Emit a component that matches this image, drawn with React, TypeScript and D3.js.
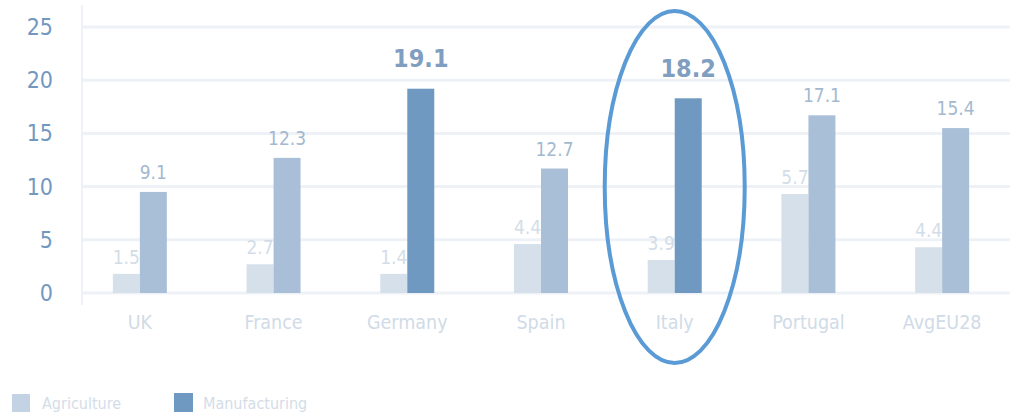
import React from "react";
import * as d3 from "d3";

const categories = ["UK", "France", "Germany", "Spain", "Italy", "Portugal", "AvgEU28"];
// bar heights as drawn in the picture
const agricultureBars = [1.8, 2.7, 1.8, 4.6, 3.1, 9.3, 4.3];
const manufacturingBars = [9.5, 12.7, 19.2, 11.7, 18.3, 16.7, 15.5];
// value labels as printed
const agricultureLabels = ["1.5", "2.7", "1.4", "4.4", "3.9", "5.7", "4.4"];
const manufacturingLabels = ["9.1", "12.3", "19.1", "12.7", "18.2", "17.1", "15.4"];
const highlighted = ["Germany", "Italy"];
const yTicks = [0, 5, 10, 15, 20, 25];
const seriesNames = ["Agriculture", "Manufacturing"];

const W = 1010;
const H = 414;
const FONT = "'Liberation Sans Narrow', 'DejaVu Sans Condensed', 'Arial Narrow', sans-serif";

export default function App() {
  const y = d3.scaleLinear().domain([0, 25]).range([293, 27]);
  const x = d3.scaleBand<string>().domain(categories).range([73, 1009]);
  const barW = 27;
  const cAgri = "#d5e0eb";
  const cManu = "#a9bfd7";
  const cHigh = "#6f99c0";

  const italyX = (x("Italy") as number) + x.bandwidth() / 2;

  return (
    <svg width={W} height={H} style={{ position: "absolute", left: 0, top: 0, background: "#fff" }} fontFamily={FONT}>
      {yTicks.map((t) => (
        <g key={t}>
          <line x1={82} x2={W} y1={y(t)} y2={y(t)} stroke="#eef2f7" strokeWidth={3} />
          <text x={53} y={y(t)} textAnchor="end" dominantBaseline="central" fontSize={23} fill="#7398c0">
            {t}
          </text>
        </g>
      ))}
      <line x1={82} x2={82} y1={5} y2={305} stroke="#eef2f8" strokeWidth={2} />
      {categories.map((c, i) => {
        const cx = (x(c) as number) + x.bandwidth() / 2;
        const isHigh = highlighted.includes(c);
        const yA = y(agricultureBars[i]);
        const yM = y(manufacturingBars[i]);
        return (
          <g key={c}>
            <rect x={cx - barW} y={yA} width={barW} height={y(0) - yA} fill={cAgri} />
            <rect x={cx} y={yM} width={barW} height={y(0) - yM} fill={isHigh ? cHigh : cManu} />
            <text x={cx - barW / 2} y={yA - 17} textAnchor="middle" dominantBaseline="central" fontSize={19} fill="#d3dde8">
              {agricultureLabels[i]}
            </text>
            <text
              x={cx + barW / 2}
              y={yM - (isHigh ? 30 : 20)}
              textAnchor="middle"
              dominantBaseline="central"
              fontSize={isHigh ? 25 : 19}
              fontWeight={isHigh ? "bold" : "normal"}
              fill={isHigh ? "#7f9ec0" : "#a3b9d0"}
            >
              {manufacturingLabels[i]}
            </text>
            <text x={cx} y={322} textAnchor="middle" dominantBaseline="central" fontSize={19.5} fill="#d0dbe7">
              {c}
            </text>
          </g>
        );
      })}
      <ellipse cx={italyX} cy={187} rx={70} ry={176} fill="none" stroke="#5b9bd5" strokeWidth={4} />
      <rect x={12} y={394} width={18} height={18} fill="#c3d3e4" />
      <text x={42} y={403} dominantBaseline="central" fontSize={16} fill="#d3dde8">
        {seriesNames[0]}
      </text>
      <rect x={174} y={393} width={19} height={19} fill={cHigh} />
      <text x={203} y={403} dominantBaseline="central" fontSize={16} fill="#d3dde8">
        {seriesNames[1]}
      </text>
    </svg>
  );
}
